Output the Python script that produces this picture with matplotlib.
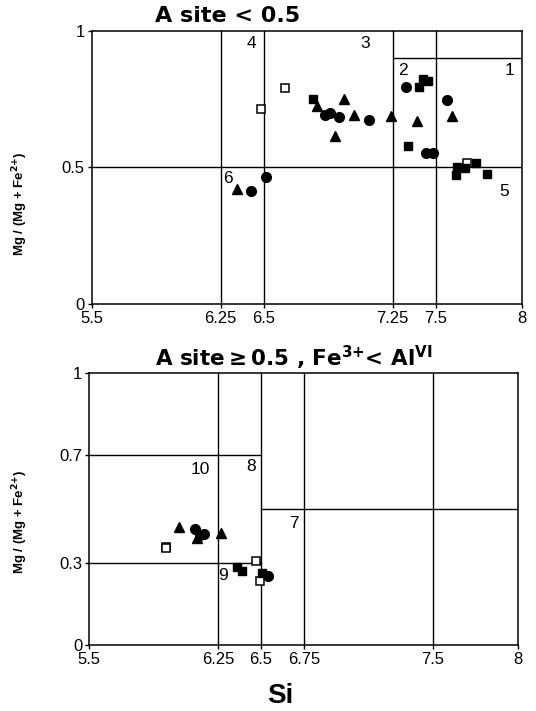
import matplotlib
matplotlib.use('Agg')
import matplotlib.pyplot as plt

plt.rcParams['font.family'] = ['Liberation Sans', 'DejaVu Sans']
plt.rcParams['mathtext.fontset'] = 'custom'
plt.rcParams['mathtext.rm'] = 'DejaVu Sans:bold'
plt.rcParams['mathtext.bf'] = 'DejaVu Sans:bold'

# === DATA ===
# upper panel: A site < 0.5
top_open_sq_x = [6.486, 6.626, 7.684]
top_open_sq_y = [0.715, 0.791, 0.515]
top_sq_x = [6.789, 7.403, 7.428, 7.455, 7.341, 7.622, 7.618, 7.671, 7.738, 7.802]
top_sq_y = [0.751, 0.793, 0.823, 0.817, 0.578, 0.502, 0.472, 0.496, 0.515, 0.476]
top_circ_x = [7.331, 7.568, 6.857, 6.889, 6.936, 7.114, 7.442, 7.486, 6.424, 6.512]
top_circ_y = [0.793, 0.746, 0.691, 0.698, 0.683, 0.673, 0.554, 0.554, 0.413, 0.463]
top_tri_x = [6.808, 6.969, 6.917, 7.027, 7.238, 7.395, 7.595, 6.343]
top_tri_y = [0.724, 0.750, 0.615, 0.691, 0.688, 0.671, 0.688, 0.421]

# lower panel: A site >= 0.5, Fe3+ < AlVI
bot_open_sq_x = [5.947, 5.949, 6.471, 6.494]
bot_open_sq_y = [0.362, 0.357, 0.310, 0.237]
bot_sq_x = [6.359, 6.388, 6.504]
bot_sq_y = [0.288, 0.274, 0.266]
bot_circ_x = [6.116, 6.145, 6.168, 6.543]
bot_circ_y = [0.426, 0.405, 0.407, 0.254]
bot_tri_x = [6.024, 6.265, 6.129]
bot_tri_y = [0.433, 0.413, 0.393]

top_xticks = [5.5, 6.25, 6.5, 7.25, 7.5, 8]
top_xlabels = ['5.5', '6.25', '6.5', '7.25', '7.5', '8']
top_yticks = [0, 0.5, 1]
top_ylabels = ['0', '0.5', '1']
bot_xticks = [5.5, 6.25, 6.5, 6.75, 7.5, 8]
bot_xlabels = ['5.5', '6.25', '6.5', '6.75', '7.5', '8']
bot_yticks = [0, 0.3, 0.7, 1]
bot_ylabels = ['0', '0.3', '0.7', '1']

# field numbers and where they sit
top_fields = ['4', '3', '2', '1', '6', '5']
top_field_x = [6.43, 7.09, 7.31, 7.93, 6.295, 7.90]
top_field_y = [0.954, 0.954, 0.856, 0.856, 0.46, 0.41]
bot_fields = ['10', '8', '7', '9']
bot_field_x = [6.145, 6.44, 6.69, 6.28]
bot_field_y = [0.647, 0.656, 0.448, 0.254]

LW = 1.0


def style_axes(ax, xticks, xlabels, yticks, ylabels):
    ax.set_xlim(5.5, 8)
    ax.set_ylim(0, 1)
    ax.set_xticks(xticks)
    ax.set_xticklabels(xlabels)
    ax.set_yticks(yticks)
    ax.set_yticklabels(ylabels)
    ax.tick_params(direction='out', length=3, width=1, labelsize=12, pad=2)
    for s in ax.spines.values():
        s.set_linewidth(1.1)


def draw_points(ax, osx, osy, sx, sy, cx, cy, tx, ty):
    ax.plot(osx, osy, 's', ms=6, mfc='white', mec='black', mew=1.1, zorder=3)
    ax.plot(sx, sy, 's', ms=6, color='black', zorder=4)
    ax.plot(cx, cy, 'o', ms=7, color='black', zorder=4)
    ax.plot(tx, ty, '^', ms=6.5, color='black', zorder=4)


fig = plt.figure(figsize=(5.36, 7.11), dpi=100)

# --- upper diagram ---
ax1 = fig.add_axes([0.171, 0.5724, 0.802, 0.3844])
style_axes(ax1, top_xticks, top_xlabels, top_yticks, top_ylabels)
for xv in [6.25, 6.5, 7.25, 7.5]:
    ax1.axvline(xv, color='black', lw=LW, zorder=1)
ax1.axhline(0.5, color='black', lw=LW, zorder=1)
ax1.plot([7.25, 8], [0.9, 0.9], color='black', lw=LW, zorder=1)
draw_points(ax1, top_open_sq_x, top_open_sq_y, top_sq_x, top_sq_y,
            top_circ_x, top_circ_y, top_tri_x, top_tri_y)
for t, xv, yv in zip(top_fields, top_field_x, top_field_y):
    ax1.text(xv, yv, t, fontsize=12.5, ha='center', va='center')

# --- lower diagram ---
ax2 = fig.add_axes([0.1667, 0.0928, 0.8003, 0.3822])
style_axes(ax2, bot_xticks, bot_xlabels, bot_yticks, bot_ylabels)
for xv in [6.25, 6.5, 6.75, 7.5]:
    ax2.axvline(xv, color='black', lw=LW, zorder=1)
ax2.plot([5.5, 6.5], [0.7, 0.7], color='black', lw=LW, zorder=1)
ax2.plot([5.5, 6.5], [0.3, 0.3], color='black', lw=LW, zorder=1)
ax2.plot([6.5, 8], [0.5, 0.5], color='black', lw=LW, zorder=1)
draw_points(ax2, bot_open_sq_x, bot_open_sq_y, bot_sq_x, bot_sq_y,
            bot_circ_x, bot_circ_y, bot_tri_x, bot_tri_y)
for t, xv, yv in zip(bot_fields, bot_field_x, bot_field_y):
    ax2.text(xv, yv, t, fontsize=12.5, ha='center', va='center')

# titles and axis labels
bold_font = ['DejaVu Sans']
fig.text(0.425, 0.977, 'A site < 0.5', fontsize=16, fontweight='bold',
         family=bold_font, ha='center', va='center')
fig.text(0.548, 0.497, r'A site$\geq$0.5 , Fe$^{3{+}}$< Al$^{\mathrm{VI}}$', fontsize=15.5,
         fontweight='bold', family=bold_font, ha='center', va='center')
ylab = r'Mg / (Mg + Fe$^{2{+}}$)'
fig.text(0.037, 0.713, ylab, fontsize=9.5, fontweight='bold',
         rotation=90, ha='center', va='center')
fig.text(0.037, 0.266, ylab, fontsize=9.5, fontweight='bold',
         rotation=90, ha='center', va='center')
fig.text(0.522, 0.021, 'Si', fontsize=20, fontweight='bold', ha='center', va='center')

plt.savefig('out.png', dpi=100)
